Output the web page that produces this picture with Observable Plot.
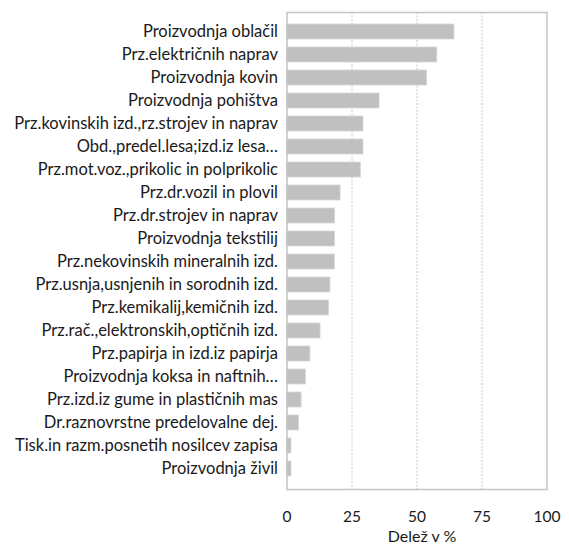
<!DOCTYPE html>
<html>
<head>
<meta charset="utf-8">
<script src="https://cdn.jsdelivr.net/npm/d3@7"></script>
<script src="https://cdn.jsdelivr.net/npm/@observablehq/plot@0.6"></script>
<style>
  html, body { margin: 0; padding: 0; background: #fff; }
</style>
</head>
<body>
<div id="chart"></div>
<script>
const categories = [
  "Proizvodnja oblačil",
  "Prz.električnih naprav",
  "Proizvodnja kovin",
  "Proizvodnja pohištva",
  "Prz.kovinskih izd.,rz.strojev in naprav",
  "Obd.,predel.lesa;izd.iz lesa…",
  "Prz.mot.voz.,prikolic in polprikolic",
  "Prz.dr.vozil in plovil",
  "Prz.dr.strojev in naprav",
  "Proizvodnja tekstilij",
  "Prz.nekovinskih mineralnih izd.",
  "Prz.usnja,usnjenih in sorodnih izd.",
  "Prz.kemikalij,kemičnih izd.",
  "Prz.rač.,elektronskih,optičnih izd.",
  "Prz.papirja in izd.iz papirja",
  "Proizvodnja koksa in naftnih…",
  "Prz.izd.iz gume in plastičnih mas",
  "Dr.raznovrstne predelovalne dej.",
  "Tisk.in razm.posnetih nosilcev zapisa",
  "Proizvodnja živil"
];
const values = [64.4, 57.8, 53.9, 35.6, 29.4, 29.4, 28.4, 20.6, 18.5, 18.5, 18.4, 16.7, 16.2, 12.9, 9.0, 7.3, 5.6, 4.6, 1.7, 1.7];
const xTicks = [0, 25, 50, 75, 100];
const gridTicks = [25, 50, 75];
const xLabel = "Delež v %";

const data = categories.map((c, i) => ({category: c, value: values[i]}));

const chart = Plot.plot({
  width: 569,
  height: 545,
  marginLeft: 286.5,
  marginRight: 22.5,
  marginTop: 12,
  marginBottom: 56,
  style: {fontFamily: "Lato", fontSize: "16.5px", color: "#1a1a1a", background: "#fff"},
  x: {domain: [0, 100]},
  y: {domain: categories, paddingInner: 0.33, paddingOuter: 0.17},
  marks: [
    Plot.gridX(gridTicks, {stroke: "#c8c8c8", strokeOpacity: 1, strokeDasharray: "2,1.5", strokeWidth: 1}),
    Plot.barX(data, {x: "value", y: "category", fill: "#c0c0c0", stroke: "#d6d6d6", strokeWidth: 0.8}),
    Plot.frame({stroke: "#c4c4c4", strokeWidth: 1.5}),
    Plot.axisY({tickSize: 0, tickPadding: 9, label: null, fontSize: 16.5}),
    Plot.axisX(xTicks, {tickSize: 0, tickPadding: 21, label: null, fontSize: 15.5}),
    Plot.text([xLabel], {frameAnchor: "bottom", dy: 52, dx: 5, fontSize: 16, lineAnchor: "bottom"})
  ]
});
document.getElementById("chart").appendChild(chart);
</script>
</body>
</html>
